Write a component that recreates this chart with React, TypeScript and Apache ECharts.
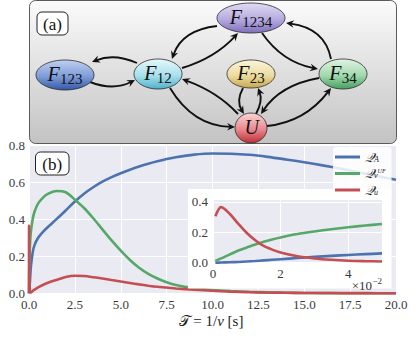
import React, { useEffect, useRef } from "react";
import * as echarts from "echarts";

// ---- data ----
const tMain = [0, 0.0024, 0.01, 0.02, 0.05, 0.1, 0.2, 0.3, 0.5, 0.75, 1, 1.5, 2, 2.5, 3, 3.5, 4, 4.5, 5, 5.5, 6, 6.5, 7, 7.5, 8, 9, 10, 11, 12, 13, 14, 15, 16, 17, 18, 19, 20];
const qAMain = [0, 0.001, 0.008, 0.023, 0.061, 0.14, 0.22, 0.26, 0.3, 0.33, 0.355, 0.4, 0.447, 0.495, 0.537, 0.572, 0.602, 0.627, 0.648, 0.667, 0.684, 0.699, 0.712, 0.724, 0.734, 0.748, 0.754, 0.753, 0.747, 0.736, 0.722, 0.707, 0.69, 0.672, 0.652, 0.632, 0.612];
const qVMain = [0, 0.028, 0.1, 0.166, 0.254, 0.33, 0.4, 0.44, 0.485, 0.515, 0.535, 0.552, 0.545, 0.505, 0.46, 0.405, 0.345, 0.285, 0.23, 0.18, 0.138, 0.105, 0.08, 0.06, 0.045, 0.028, 0.018, 0.012, 0.008, 0.005, 0.003, 0.002, 0.001, 0.0006, 0.0004, 0.0002, 0.0001];
const qUMain = [0, 0.365, 0.195, 0.067, 0.008, 0.004, 0.012, 0.02, 0.032, 0.045, 0.056, 0.072, 0.088, 0.095, 0.093, 0.087, 0.08, 0.072, 0.064, 0.056, 0.048, 0.041, 0.035, 0.031, 0.026, 0.019, 0.014, 0.009, 0.006, 0.004, 0.003, 0.002, 0.0015, 0.001, 0.0008, 0.0006, 0.0005];

const tInset = [0.0007, 0.0024, 0.005, 0.0075, 0.01, 0.0125, 0.015, 0.0175, 0.02, 0.025, 0.03, 0.035, 0.04, 0.045, 0.05];
const qAInset = [0, 0.001, 0.003, 0.005, 0.008, 0.011, 0.015, 0.019, 0.023, 0.031, 0.038, 0.045, 0.051, 0.056, 0.061];
const qVInset = [0.012, 0.028, 0.055, 0.08, 0.1, 0.12, 0.138, 0.153, 0.166, 0.188, 0.205, 0.22, 0.233, 0.244, 0.254];
const qUInset = [0.305, 0.365, 0.32, 0.255, 0.195, 0.148, 0.11, 0.086, 0.067, 0.042, 0.028, 0.019, 0.013, 0.01, 0.008];

const mainXTicks = [0, 20, 2.5];
const mainYTicks = [0, 0.8, 0.2];
const insetXTicks = [0, 0.05, 0.02];
const insetYTicks = [0, 0.415, 0.2];

const seriesNames = ["QA", "QV", "QU"];
const seriesColors = ["#4c72b0", "#55a868", "#c44e52"];

const nodes = [
  { id: "F1234", sub: "1234", x: 251, y: 18, rx: 34, ry: 15, c: ["#e2dbf3", "#b6abdf", "#7f6fbb"] },
  { id: "F123", sub: "123", x: 65, y: 75, rx: 29, ry: 15, c: ["#c0d0f0", "#7e9cd8", "#3459a8"] },
  { id: "F12", sub: "12", x: 158, y: 74, rx: 24, ry: 15, c: ["#e6f8fb", "#a8e0ec", "#4fb2cb"] },
  { id: "F23", sub: "23", x: 251, y: 74, rx: 24, ry: 14, c: ["#fbf6da", "#ecdca2", "#c6a94e"] },
  { id: "F34", sub: "34", x: 343, y: 74, rx: 24, ry: 15, c: ["#e0f4e4", "#a2d8ae", "#46a05e"] },
  { id: "U", sub: "", x: 251, y: 128, rx: 16, ry: 15, c: ["#fbd6d6", "#e8878e", "#c03038"] },
];

// edges: start, control, end (arrow at end)
const edges = [
  [137, 63, 114, 53, 92, 62],
  [90, 82, 113, 91, 135, 80],
  [217, 26, 182, 30, 172, 59],
  [182, 68, 215, 58, 238, 33],
  [262, 33, 282, 62, 318, 69],
  [331, 59, 325, 28, 286, 23],
  [267, 126, 305, 122, 331, 88],
  [319, 78, 280, 85, 261, 114],
  [243, 88, 236, 101, 244, 114],
  [256, 114, 263, 101, 258, 88],
  [238, 114, 218, 92, 182, 79],
  [170, 88, 193, 126, 235, 127],
];

const SERIF = "'Liberation Serif', 'DejaVu Serif', serif";

function buildGraphic(): any[] {
  const els: any[] = [];
  // panel (a) background
  els.push({
    type: "rect",
    shape: { x: 29.5, y: 0.5, width: 367, height: 143, r: 6 },
    style: {
      fill: new echarts.graphic.LinearGradient(0, 0, 0, 1, [
        { offset: 0, color: "#fbfbfb" },
        { offset: 1, color: "#c3c3c3" },
      ]),
      stroke: "#5a5a5a",
      lineWidth: 1,
    },
    z: 0,
  });
  // edges
  edges.forEach((e) => {
    const [x1, y1, cx, cy, x2, y2] = e;
    let dx = x2 - cx;
    let dy = y2 - cy;
    const len = Math.hypot(dx, dy) || 1;
    dx /= len;
    dy /= len;
    const L = 8;
    const W = 3.8;
    const bx = x2 - dx * L;
    const by = y2 - dy * L;
    const px = -dy;
    const py = dx;
    els.push({
      type: "bezierCurve",
      shape: { x1, y1, cpx1: cx, cpy1: cy, x2: x2 - dx * 4.5, y2: y2 - dy * 4.5 },
      style: { stroke: "#111", lineWidth: 1.9, fill: null },
      z: 1,
    });
    els.push({
      type: "polygon",
      shape: {
        points: [
          [x2, y2],
          [bx + px * W, by + py * W],
          [x2 - dx * L * 0.65, y2 - dy * L * 0.65],
          [bx - px * W, by - py * W],
        ],
      },
      style: { fill: "#111", stroke: null },
      z: 2,
    });
  });
  // nodes
  nodes.forEach((n) => {
    els.push({
      type: "ellipse",
      shape: { cx: n.x, cy: n.y, rx: n.rx, ry: n.ry },
      style: {
        fill: new echarts.graphic.LinearGradient(0, 0, 0, 1, [
          { offset: 0, color: n.c[0] },
          { offset: 0.55, color: n.c[1] },
          { offset: 1, color: n.c[2] },
        ]),
        stroke: "#2a2a2a",
        lineWidth: 0.8,
      },
      z: 3,
    });
    const fW = n.sub ? 12.5 : 13;
    const sW = n.sub.length * 7.5;
    const total = fW + sW;
    const x0 = n.x - total / 2;
    els.push({
      type: "text",
      x: x0,
      y: n.y - 1,
      style: {
        text: n.sub ? "F" : "U",
        font: "italic 20px " + SERIF,
        fill: "#111",
        align: "left",
        verticalAlign: "middle",
      },
      z: 4,
    });
    if (n.sub) {
      els.push({
        type: "text",
        x: x0 + fW,
        y: n.y + 3.5,
        style: {
          text: n.sub,
          font: "15px " + SERIF,
          fill: "#111",
          align: "left",
          verticalAlign: "middle",
        },
        z: 4,
      });
    }
  });
  // (a) and (b) boxes
  const labelBox = (x: number, y: number, w: number, h: number, t: string) => {
    els.push({
      type: "rect",
      shape: { x, y, width: w, height: h, r: 5 },
      style: { fill: "#fff", stroke: "#222", lineWidth: 1 },
      z: 5,
    });
    els.push({
      type: "text",
      x: x + w / 2,
      y: y + h / 2 + 0.5,
      style: { text: t, font: "17px " + SERIF, fill: "#111", align: "center", verticalAlign: "middle" },
      z: 6,
    });
  };
  labelBox(37, 12, 31, 23, "(a)");
  labelBox(35.5, 152, 33.5, 23, "(b)");
  // x title
  els.push({
    type: "text",
    x: 211,
    y: 321,
    style: {
      text: "{c|𝒯} = 1/{i|v} [s]",
      font: "15px " + SERIF,
      fill: "#222",
      align: "center",
      verticalAlign: "middle",
      rich: {
        c: { fontFamily: SERIF, fontSize: 15, fill: "#222" },
        i: { fontFamily: SERIF, fontStyle: "italic", fontSize: 15, fill: "#222" },
      },
    },
    z: 5,
  });
  // inset white background
  els.push({
    type: "rect",
    shape: { x: 188, y: 189, width: 203.5, height: 99.5 },
    style: { fill: "#fff", stroke: null },
    zlevel: 1,
    z: 0,
  });
  // x10^-2
  els.push({
    type: "text",
    x: 372,
    y: 285.5,
    style: { text: "×10", font: "13px " + SERIF, fill: "#333", align: "right", verticalAlign: "middle" },
    zlevel: 1,
    z: 5,
  });
  els.push({
    type: "text",
    x: 372.5,
    y: 281,
    style: { text: "−2", font: "9px " + SERIF, fill: "#333", align: "left", verticalAlign: "middle" },
    zlevel: 1,
    z: 5,
  });
  return els;
}

const legendRich = {
  q: { fontFamily: SERIF, fontStyle: "italic", fontSize: 13, color: "#222", lineHeight: 12 },
  s: { fontFamily: SERIF, fontStyle: "italic", fontSize: 8, color: "#222", lineHeight: 12, verticalAlign: "bottom", padding: [5, 0, 0, 0] },
  u: { fontFamily: SERIF, fontStyle: "italic", fontSize: 6, color: "#222", lineHeight: 12, verticalAlign: "top", padding: [0, 0, 2, 0] },
};
const legendLabels: Record<string, string> = {
  QA: "{q|𝒬}{s|A}",
  QV: "{q|𝒬}{s|ν}{u|UF}",
  QU: "{q|𝒬}{s|u}",
};

export default function App() {
  const ref = useRef<HTMLDivElement>(null);
  useEffect(() => {
    if (!ref.current) return;
    const chart = echarts.init(ref.current, null, { renderer: "svg" });
    const pair = (xs: number[], ys: number[]) => xs.map((x, i) => [x, ys[i]]);
    const labelStyle = { fontFamily: SERIF, fontSize: 13, color: "#3a3a3a" };
    const mainSeries = [qAMain, qVMain, qUMain].map((ys, i) => ({
      name: seriesNames[i],
      type: "line",
      xAxisIndex: 0,
      yAxisIndex: 0,
      data: pair(tMain, ys),
      showSymbol: false,
      symbol: "none",
      smooth: 0.3,
      clip: false,
      lineStyle: { width: 2.6, color: seriesColors[i] },
      itemStyle: { color: seriesColors[i] },
      z: 2,
    }));
    const insetSeries = [qAInset, qVInset, qUInset].map((ys, i) => ({
      name: seriesNames[i],
      type: "line",
      xAxisIndex: 1,
      yAxisIndex: 1,
      data: pair(tInset, ys),
      showSymbol: false,
      symbol: "none",
      smooth: 0.3,
      clip: false,
      lineStyle: { width: 2.6, color: seriesColors[i] },
      itemStyle: { color: seriesColors[i] },
      zlevel: 1,
      z: 4,
    }));
    chart.setOption({
      animation: false,
      backgroundColor: "#fff",
      graphic: buildGraphic(),
      grid: [
        { left: 29, right: 20, top: 145, bottom: 45.7, show: true, backgroundColor: "#eaeaf2", borderWidth: 0 },
        { left: 213, right: 34, top: 199.5, bottom: 76.3, show: true, backgroundColor: "#eaeaf2", borderWidth: 0, zlevel: 1, z: 1 },
      ],
      xAxis: [
        {
          type: "value",
          gridIndex: 0,
          min: mainXTicks[0],
          max: mainXTicks[1],
          interval: mainXTicks[2],
          axisLine: { show: false },
          axisTick: { show: false },
          axisLabel: { ...labelStyle, margin: 5, formatter: (v: number) => v.toFixed(1) },
          splitLine: { show: true, lineStyle: { color: "#fff", width: 1 } },
        },
        {
          type: "value",
          gridIndex: 1,
          min: insetXTicks[0],
          max: insetXTicks[1],
          interval: insetXTicks[2],
          zlevel: 1,
          z: 2,
          axisLine: { show: false },
          axisTick: { show: false },
          axisLabel: {
            ...labelStyle,
            margin: 4,
            showMaxLabel: false,
            formatter: (v: number) => {
              const k = Math.round(v * 100);
              return Math.abs(v * 100 - k) < 1e-6 && k % 2 === 0 ? String(k) : "";
            },
          },
          splitLine: { show: true, lineStyle: { color: "#fff", width: 1 } },
        },
      ],
      yAxis: [
        {
          type: "value",
          gridIndex: 0,
          min: mainYTicks[0],
          max: mainYTicks[1],
          interval: mainYTicks[2],
          axisLine: { show: false },
          axisTick: { show: false },
          axisLabel: { ...labelStyle, margin: 4, formatter: (v: number) => v.toFixed(1) },
          splitLine: { show: true, lineStyle: { color: "#fff", width: 1 } },
        },
        {
          type: "value",
          gridIndex: 1,
          min: insetYTicks[0],
          max: insetYTicks[1],
          interval: insetYTicks[2],
          zlevel: 1,
          z: 2,
          axisLine: { show: false },
          axisTick: { show: false },
          axisLabel: { ...labelStyle, margin: 5, showMaxLabel: false, formatter: (v: number) => (v > 0.41 ? "" : v.toFixed(1)) },
          splitLine: { show: true, lineStyle: { color: "#fff", width: 1 } },
        },
      ],
      legend: {
        data: seriesNames,
        orient: "vertical",
        left: 333,
        top: 147,
        padding: [3, 6, 3, 2],
        itemWidth: 25,
        itemHeight: 3,
        itemGap: 3,
        icon: "rect",
        backgroundColor: "rgba(255,255,255,0.85)",
        borderColor: "#eee",
        borderWidth: 0,
        borderRadius: 3,
        zlevel: 2,
        textStyle: { lineHeight: 12, rich: legendRich, padding: [0, 0, 0, 0] },
        formatter: (name: string) => legendLabels[name] || name,
      },
      series: [...mainSeries, ...insetSeries],
    });
    return () => chart.dispose();
  }, []);
  return <div ref={ref} style={{ position: "fixed", left: 0, top: 0, width: 416, height: 339, background: "#fff" }} />;
}
